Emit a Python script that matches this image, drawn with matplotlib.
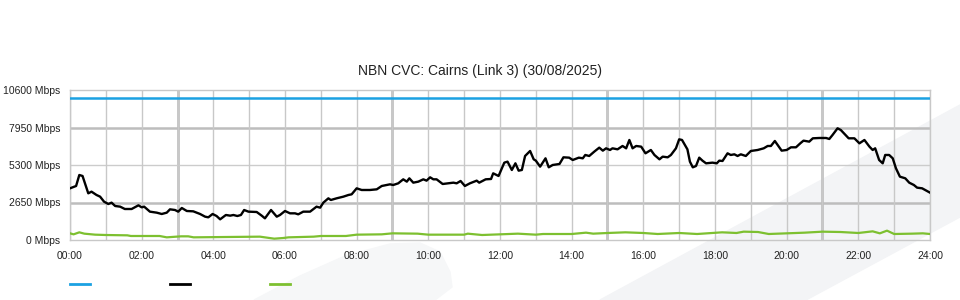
import matplotlib
matplotlib.use("Agg")
import matplotlib.pyplot as plt
from matplotlib.patches import Polygon
from matplotlib.lines import Line2D

plt.rcParams['font.family'] = ['Liberation Sans', 'DejaVu Sans']

title = "NBN CVC: Cairns (Link 3) (30/08/2025)"
y_ticks = [0, 2650, 5300, 7950, 10600]
y_labels = [f"{v} Mbps" for v in y_ticks]
x_ticks = list(range(0, 25, 2))
x_labels = [f"{h:02d}:00" for h in x_ticks]

# capacity (blue)
cap_t = [0, 24]
cap_v = [10000, 10000]

# traffic (black), hours / Mbps
used_t = [0.0, 0.17, 0.26, 0.35, 0.51, 0.6, 0.74, 0.84, 0.95, 1.07, 1.16, 1.26, 1.4, 1.53,
          1.72, 1.91, 2.0, 2.07, 2.23, 2.42, 2.56, 2.7, 2.79, 2.93, 3.02, 3.12, 3.26, 3.44,
          3.63, 3.77, 3.86, 3.98, 4.09, 4.19, 4.35, 4.47, 4.56, 4.67, 4.77, 4.86, 4.98, 5.21,
          5.35, 5.44, 5.61, 5.77, 5.86, 6.0, 6.14, 6.28, 6.37, 6.51, 6.7, 6.88, 6.98, 7.07,
          7.21, 7.28, 7.44, 7.63, 7.77, 7.86, 8.0, 8.14, 8.37, 8.56, 8.7, 8.84, 8.93, 9.02,
          9.16, 9.3, 9.4, 9.47, 9.58, 9.72, 9.86, 9.95, 10.05, 10.14, 10.23, 10.4, 10.56, 10.7,
          10.79, 10.9, 11.02, 11.16, 11.35, 11.42, 11.6, 11.75, 11.81, 11.96, 12.12, 12.21,
          12.33, 12.43, 12.52, 12.61, 12.7, 12.84, 12.94, 13.0, 13.12, 13.27, 13.36, 13.47,
          13.66, 13.77, 13.93, 14.03, 14.2, 14.31, 14.38, 14.49, 14.63, 14.77, 14.87, 14.96,
          15.07, 15.14, 15.28, 15.42, 15.52, 15.61, 15.7, 15.8, 15.94, 16.06, 16.21, 16.31,
          16.45, 16.54, 16.68, 16.77, 16.91, 17.0, 17.08, 17.23, 17.3, 17.38, 17.47, 17.56,
          17.65, 17.75, 17.93, 18.05, 18.12, 18.21, 18.35, 18.44, 18.54, 18.63, 18.72, 18.86,
          19.0, 19.19, 19.36, 19.47, 19.56, 19.67, 19.75, 19.86, 20.0, 20.12, 20.26, 20.38,
          20.47, 20.63, 20.73, 20.91, 21.1, 21.19, 21.28, 21.42, 21.51, 21.64, 21.73, 21.89,
          22.03, 22.17, 22.31, 22.4, 22.47, 22.58, 22.68, 22.75, 22.86, 22.96, 23.05, 23.16,
          23.31, 23.42, 23.55, 23.64, 23.78, 24.0]
used_v = [3652, 3817, 4594, 4523, 3298, 3416, 3181, 3063, 2709, 2544, 2639, 2403, 2356, 2191,
          2191, 2450, 2309, 2356, 2003, 1932, 1838, 1932, 2167, 2120, 2003, 2262, 2050, 2026,
          1838, 1649, 1602, 1838, 1696, 1461, 1767, 1720, 1767, 1696, 1767, 2120, 2003, 1979,
          1720, 1531, 2120, 1649, 1767, 2050, 1885, 1885, 1814, 2003, 2003, 2356, 2285, 2639,
          2945, 2827, 2945, 3063, 3181, 3228, 3652, 3534, 3534, 3581, 3817, 3887, 3935, 3887,
          4005, 4288, 4123, 4359, 4052, 4123, 4288, 4194, 4429, 4288, 4288, 3958, 4005, 4052,
          4005, 4170, 3817, 4005, 4194, 4052, 4288, 4311, 4712, 4523, 5466, 5537,
          4948, 5419, 4900, 4948, 5937, 6291, 5702, 5607, 5183, 5772, 5136, 5301,
          5372, 5843, 5819, 5654, 5819, 5772, 6008, 5937, 6243, 6526, 6314, 6479,
          6361, 6479, 6408, 6644, 6479, 7068, 6479, 6644, 6597, 6126, 6361, 6008,
          5702, 5890, 5843, 6008, 6479, 7115, 7068, 6408, 5537, 5136, 5230, 5819,
          5607, 5419, 5466, 5419, 5607, 5584, 6126, 6008, 6055, 5937, 6055, 5937,
          6291, 6361, 6479, 6644, 6644, 6997, 6715, 6314, 6361, 6550, 6550, 6832,
          7021, 6950, 7186, 7209, 7209, 7139, 7421, 7893, 7775, 7421, 7186, 7186,
          6832, 7068, 6597, 6361, 6479, 5654, 5419, 6008, 6008, 5772, 5065, 4476,
          4359, 4052, 3887, 3699, 3652, 3346]

# upload (green)
up_t = [0.0, 0.1, 0.26, 0.4, 0.7, 1.0, 1.6, 1.7, 2.5, 2.7, 3.1, 3.3, 3.45, 5.3, 5.5, 5.7,
        5.95, 6.1, 6.8, 7.0, 7.7, 8.0, 8.7, 9.0, 9.7, 10.0, 11.0, 11.1, 11.5, 12.0, 12.5,
        13.0, 13.2, 14.0, 14.4, 14.6, 15.0, 15.5, 16.0, 16.4, 17.0, 17.5, 18.2, 18.6, 18.8,
        19.2, 19.5, 20.0, 20.5, 21.0, 21.5, 22.0, 22.4, 22.6, 22.8, 23.0, 23.5, 23.8, 24.0]
up_v = [471, 400, 542, 448, 377, 353, 330, 283, 283, 188, 259, 259, 188, 236, 165, 94,
        141, 188, 236, 283, 283, 377, 400, 471, 448, 377, 377, 448, 353, 400, 448,
        377, 424, 424, 518, 448, 495, 542, 495, 424, 495, 424, 542, 495, 589,
        565, 424, 471, 518, 589, 565, 495, 612, 471, 660, 424, 448, 471, 424]

W, H = 960, 300
fig = plt.figure(figsize=(W / 100, H / 100), dpi=100)
fig.patch.set_facecolor("white")

bg = "#f3f4f6"
def px(pts):
    return [(x / W, 1 - y / H) for x, y in pts]

fig.add_artist(Polygon(px([(600, 300), (960, 105), (960, 217), (806, 300)]),
                       closed=True, transform=fig.transFigure, color=bg, zorder=0))
fig.add_artist(Polygon(px([(254, 300), (300, 276), (345, 256), (390, 244), (420, 243),
                           (440, 252), (450, 272), (452, 287), (435, 300)]),
                       closed=True, transform=fig.transFigure, color="#f6f7f8", zorder=0))

ax = fig.add_axes([70 / W, 60 / H, 860 / W, 150 / H])
ax.set_facecolor("none")
ax.set_zorder(1)

ax.plot(cap_t, cap_v, color="#1ba1e2", lw=1.8, zorder=4)
ax.plot(used_t, used_v, color="black", lw=1.7, zorder=5)
ax.plot(up_t, up_v, color="#7dc030", lw=1.6, zorder=4)

ax.set_xlim(0, 24)
ax.set_ylim(0, 10600)
ax.set_xticks(x_ticks)
ax.set_xticklabels(x_labels)
ax.set_xticks(range(0, 25), minor=True)
ax.set_yticks(y_ticks)
ax.set_yticklabels(y_labels)
ax.tick_params(which="both", length=0, labelsize=7.5, colors="#222222")
ax.tick_params(axis="x", pad=8)
ax.tick_params(axis="y", pad=7)

ax.grid(True, which="minor", axis="x", color="#c8c8c8", lw=1.0, zorder=1)
ax.grid(True, which="major", axis="x", color="#c8c8c8", lw=1.0, zorder=1)
for h in [3, 9, 15, 21]:
    ax.axvline(h, color="#b8b8b8", lw=1.8, zorder=1)
for v in y_ticks[1:-1]:
    ax.axhline(v, color="#bdbdbd" if v in (2650, 7950) else "#cccccc",
               lw=1.8 if v in (2650, 7950) else 1.0, zorder=1)
for s in ax.spines.values():
    s.set_color("#c8c8c8")
    s.set_linewidth(1.0)

fig.text(480 / W, 1 - 71 / H, title, ha="center", va="center", fontsize=10, color="#222222")

handles = [Line2D([], [], color="#1ba1e2", lw=2),
           Line2D([], [], color="black", lw=2),
           Line2D([], [], color="#7dc030", lw=2)]
fig.legend(handles, ["", "", ""], ncol=3, frameon=False, loc="center left",
           bbox_to_anchor=(70 / W, 1 - 285 / H), borderpad=0, borderaxespad=0,
           handlelength=1.8, handletextpad=0, columnspacing=7.2, fontsize=8)

fig.savefig("out.png", dpi=100)
